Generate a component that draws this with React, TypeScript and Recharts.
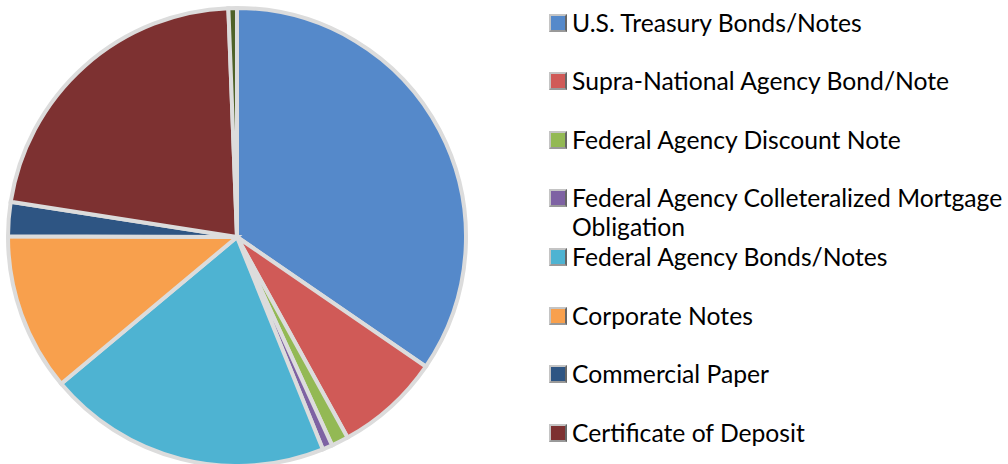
import React from 'react';
import { PieChart, Pie, Cell, Legend } from 'recharts';

const categories = [
  'U.S. Treasury Bonds/Notes',
  'Supra-National Agency Bond/Note',
  'Federal Agency Discount Note',
  'Federal Agency Colleteralized Mortgage Obligation',
  'Federal Agency Bonds/Notes',
  'Corporate Notes',
  'Commercial Paper',
  'Certificate of Deposit',
  'Other',
];
const values = [34.5, 7.4, 1.2, 0.7, 20.0, 11.1, 2.4, 21.9, 0.6];
const colors = ['#5589CA', '#D05A57', '#93B954', '#7E62A3', '#4EB3D2', '#F8A04D', '#2E5583', '#7D3131', '#4F6228'];
const legendCount = 8;

const data = categories.map((name, i) => ({ name, value: values[i] }));

const LegendContent = (props: any) => {
  const items = (props.payload || []).slice(0, legendCount);
  return (
    <div style={{ position: 'relative', width: 459, height: 464 }}>
      {items.map((it: any, i: number) => (
        <div
          key={i}
          style={{
            position: 'absolute',
            left: 0,
            top: 22 + i * 58.6 - 14.5,
            display: 'flex',
            alignItems: 'flex-start',
          }}
        >
          <div
            style={{
              width: 18,
              height: 18,
              marginTop: 6,
              marginRight: 5,
              background: colors[i],
              boxSizing: 'border-box',
              border: '2px solid #c4c4c4',
              borderRightColor: '#666',
              borderBottomColor: '#999',
              flexShrink: 0,
            }}
          />
          <div
            style={{
              fontFamily: 'Lato, "Open Sans", sans-serif',
              fontSize: 24.7,
              lineHeight: '29px',
              color: '#000',
              width: 436,
            }}
          >
            {categories[i]}
          </div>
        </div>
      ))}
    </div>
  );
};

export default function App() {
  return (
    <div style={{ position: 'absolute', left: 0, top: 0, width: 1008, height: 464, background: '#fff' }}>
      <PieChart width={1008} height={464} margin={{ top: 0, right: 0, bottom: 0, left: 0 }}>
        <Pie
          data={data}
          dataKey="value"
          nameKey="name"
          cx={237}
          cy={237}
          outerRadius={229}
          startAngle={90}
          endAngle={-270}
          stroke="#dcdcdc"
          strokeWidth={4}
          isAnimationActive={false}
          label={false}
          labelLine={false}
        >
          {data.map((d, i) => (
            <Cell key={d.name} fill={colors[i]} />
          ))}
        </Pie>
        <Legend
          layout="vertical"
          verticalAlign="top"
          align="right"
          wrapperStyle={{ left: 549, top: 0, width: 459, height: 464 }}
          content={<LegendContent />}
        />
      </PieChart>
    </div>
  );
}
